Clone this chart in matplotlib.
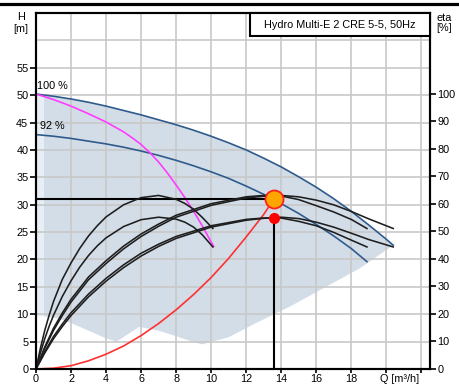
import matplotlib
matplotlib.use("Agg")
import matplotlib.pyplot as plt
from matplotlib.lines import Line2D
from matplotlib.patches import Rectangle

plt.rcParams['font.family'] = ['Liberation Sans', 'DejaVu Sans']

# ---------------- data ----------------
# QH curves (head in m)
Q_100 = [0, 1, 2, 3, 4, 5, 6, 7, 8, 9, 10, 11, 12, 13, 14, 15, 16, 17, 18, 19, 20, 20.4]
H_100 = [50.2, 49.8, 49.3, 48.7, 48.0, 47.2, 46.4, 45.5, 44.6, 43.6, 42.5, 41.3,
         40.0, 38.5, 36.9, 35.1, 33.2, 31.1, 28.8, 26.3, 23.7, 22.6]
Q_92 = [0, 1, 2, 3, 4, 5, 6, 7, 8, 9, 10, 11, 12, 13, 14, 15, 16, 17, 18, 18.9]
H_92 = [42.8, 42.5, 42.1, 41.6, 41.1, 40.5, 39.8, 39.0, 38.1, 37.1, 36.0, 34.8,
        33.4, 31.9, 30.2, 28.4, 26.4, 24.3, 22.0, 19.6]

# single pump max curve (magenta)
Q_MAG = [0, 1, 2, 3, 4, 5, 5.5, 6, 6.5, 7, 7.5, 8, 8.5, 9, 9.5, 10, 10.15]
H_MAG = [50.2, 49.2, 48.0, 46.6, 45.1, 43.3, 42.2, 41.0, 39.5, 37.8, 35.8, 33.6,
         31.3, 28.8, 26.1, 23.2, 22.4]

# system curve (red)
Q_SYS = [0, 1, 2, 3, 4, 5, 6, 7, 8, 9, 10, 11, 12, 13, 13.6]
H_SYS = [0, 0.15, 0.6, 1.5, 2.7, 4.2, 6.1, 8.3, 10.8, 13.6, 16.7, 20.2, 24.1, 28.2, 31.1]

# operating range (shaded)
SHADE_Q = [0.45, 2, 4, 6, 8, 10, 12, 14, 16, 18, 20.4,
           18.5, 16.5, 14.5, 12.5, 11, 9.5, 9, 8, 7, 5.9, 4.6, 4, 3, 2, 1.2, 0.45]
SHADE_H = [50.0, 49.3, 48.0, 46.4, 44.6, 42.5, 40.0, 36.9, 33.2, 28.8, 22.6,
           18.4, 14.9, 11.4, 8.3, 5.8, 4.5, 4.9, 6.0, 7.0, 7.7, 5.0, 5.6, 7.0, 8.4, 9.3, 9.6]
STRIP_Q = [0, 0.45, 0.45, 0]
STRIP_H = [9.6, 9.6, 50.0, 50.2]

# efficiency curves (eta %)
ETA_Q1 = [0, 0.25, 0.5, 0.75, 1, 1.5, 2, 2.5, 3, 3.5, 4, 5, 6, 7, 8, 8.5, 9, 9.5, 10.1]
ETA_P1 = [0, 7.5, 14, 19.5, 24.5, 32.5, 38.5, 43.8, 48.3, 52, 55.2, 59.6, 62.2, 63,
          61.6, 60.1, 58, 55, 51]
ETA_T1 = [0, 5.8, 11, 15.5, 19.5, 26.3, 32, 37, 41.2, 44.7, 47.6, 51.7, 54.2, 55.1,
          54.4, 53.3, 51.5, 48.7, 44.3]
ETA_Q2A = [0, 0.5, 1, 1.5, 2, 3, 4, 5, 6, 7, 8, 10, 12, 13, 14, 15, 16, 17, 18, 19, 20.4]
ETA_P2A = [0, 7.5, 14, 19.4, 24.3, 32.4, 38.3, 43.6, 48.1, 51.8, 55.1, 59.4, 62.1,
           62.7, 63, 62.5, 61.3, 59.6, 57.2, 54.5, 51]
ETA_T2A = [0, 5.8, 11, 15.4, 19.4, 26.2, 31.9, 36.8, 41, 44.5, 47.4, 51.5, 54, 54.7,
           55.1, 54.6, 53.3, 51.5, 49.3, 47, 44.3]
ETA_Q2B = [0, 0.5, 1, 1.5, 2, 3, 4, 5, 6, 7, 8, 10, 12, 13, 14, 15, 16, 17, 18, 18.9]
ETA_P2B = [0, 8, 14.8, 20.3, 25.3, 33.4, 39.3, 44.6, 49, 52.6, 55.8, 60, 62.5, 63,
           62.8, 61.5, 59.3, 57, 54.3, 51]
ETA_T2B = [0, 6.3, 11.8, 16.3, 20.4, 27.2, 32.9, 37.8, 42, 45.3, 48.1, 52, 54.3, 54.8,
           54.8, 53.6, 52, 49.6, 46.8, 44.3]

# duty point
DUTY_Q = 13.6
DUTY_H = 31.1
ACT_H = 27.5

X_TICKS = [0, 2, 4, 6, 8, 10, 12, 14, 16, 18, 20, 22]
X_LABELS = ['0', '2', '4', '6', '8', '10', '12', '14', '16', '18', '', '']
H_TICKS = [0, 5, 10, 15, 20, 25, 30, 35, 40, 45, 50, 55]
ETA_TICKS = [0, 10, 20, 30, 40, 50, 60, 70, 80, 90, 100]
TITLE = "Hydro Multi-E 2 CRE 5-5, 50Hz"

# ---------------- figure ----------------
W, HH = 459, 385
fig = plt.figure(figsize=(W / 100, HH / 100), dpi=100)
ax = fig.add_axes([36 / W, 1 - 369 / HH, 394 / W, 356 / HH])
ax.set_xlim(0, 22.5)
ax.set_ylim(0, 65)

FS = 7.8
ax.fill(SHADE_Q, SHADE_H, color='#d2dde8', lw=0, zorder=1)
ax.fill(STRIP_Q, STRIP_H, color='#e8eef5', lw=0, zorder=1)

ax.set_xticks(X_TICKS)
ax.set_xticklabels(X_LABELS)
ax.set_yticks(H_TICKS)
ax.set_yticks([60, 65], minor=True)
ax.tick_params(which='minor', length=0)
ax.tick_params(axis='y', which='major', labelsize=FS, width=1.2, length=4, pad=1.5)
ax.tick_params(axis='x', which='major', labelsize=FS, width=1.2, length=3, pad=0.8)
ax.grid(True, which='both', color='#c8c8c8', lw=1.2, zorder=1.5)
for s in ax.spines.values():
    s.set_linewidth(1.5)

blue = '#2f5b8c'
ax.plot(Q_100, H_100, color=blue, lw=1.2, zorder=3)
ax.plot(Q_92, H_92, color=blue, lw=1.2, zorder=3)
ax.plot(Q_MAG, H_MAG, color='#ff3cff', lw=1.2, zorder=3)
ax.plot(Q_SYS, H_SYS, color='#ff3030', lw=1.2, zorder=3)
ax.plot([0, DUTY_Q], [DUTY_H, DUTY_H], color='black', lw=1.5, zorder=3)
ax.plot([DUTY_Q, DUTY_Q], [0, ACT_H], color='black', lw=1.5, zorder=3)

ax.text(0.05, 51.6, '100 %', fontsize=FS, va='center', ha='left', zorder=4)
ax.text(0.23, 44.3, '92 %', fontsize=FS, va='center', ha='left', zorder=4)

# right axis (eta)
ax2 = ax.twinx()
ax2.set_ylim(0, 65 * 100 / 50.3)
ax2.set_yticks(ETA_TICKS)
ax2.tick_params(axis='y', labelsize=FS, width=1.2, length=4, pad=1.5)
for s in ax2.spines.values():
    s.set_linewidth(1.5)

blk = '#1e1e1e'
ax2.plot(ETA_Q1, ETA_P1, color=blk, lw=1.15)
ax2.plot(ETA_Q1, ETA_T1, color=blk, lw=1.15)
ax2.plot(ETA_Q2A, ETA_P2A, color=blk, lw=1.15)
ax2.plot(ETA_Q2B, ETA_P2B, color=blk, lw=1.15)
ax2.plot(ETA_Q2A, ETA_T2A, color=blk, lw=1.15)
ax2.plot(ETA_Q2B, ETA_T2B, color=blk, lw=1.15)

ax2.plot([DUTY_Q], [DUTY_H], marker='o', ms=13, mfc='#ffa500', mec='#ff2020',
         mew=1.3, transform=ax.transData, zorder=6)
ax2.plot([DUTY_Q], [ACT_H], marker='o', ms=7, mfc='#ff0000', mec='#ff0000',
         transform=ax.transData, zorder=6)

# title box
ax2.add_patch(Rectangle((214 / 394, 1 - 23 / 356), 180 / 394, 23 / 356,
                        transform=ax.transAxes, facecolor='white',
                        edgecolor='black', lw=1.5, zorder=7, clip_on=False))
ax2.text((340 - 36) / 394, 1 - 11.5 / 356, TITLE, transform=ax.transAxes,
         fontsize=FS, ha='center', va='center', zorder=8)

# axis labels
fig.text(21 / W, 1 - 17 / HH, 'H', fontsize=FS, ha='center', va='center')
fig.text(21 / W, 1 - 29 / HH, '[m]', fontsize=FS, ha='center', va='center')
fig.text(444 / W, 1 - 18 / HH, 'eta', fontsize=FS, ha='center', va='center')
fig.text(444 / W, 1 - 28 / HH, '[%]', fontsize=FS, ha='center', va='center')
fig.text(400 / W, 1 - 379.5 / HH, 'Q [m³/h]', fontsize=FS, ha='center', va='center')

# top border line
fig.add_artist(Line2D([0, 1], [1 - 3.5 / HH, 1 - 3.5 / HH], color='black', lw=2.3,
                      transform=fig.transFigure))

fig.savefig('out.png', dpi=100)
